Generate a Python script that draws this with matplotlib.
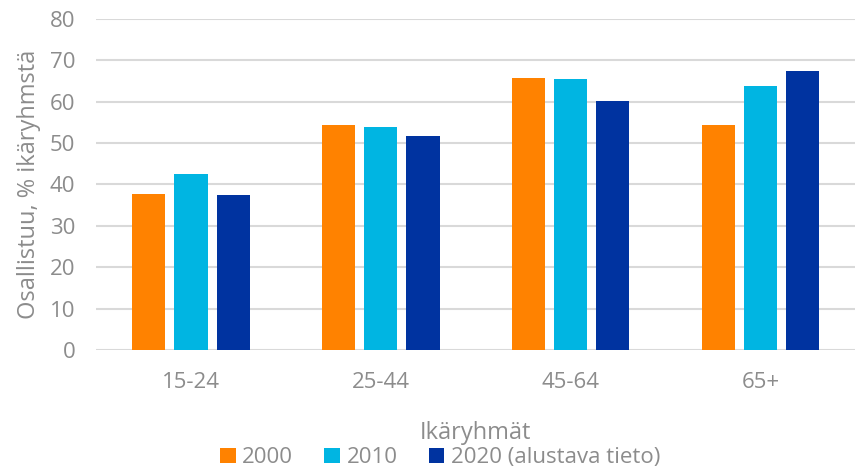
import numpy as np
import matplotlib.pyplot as plt

# arvot luettu kuvasta
categories = ['15-24', '25-44', '45-64', '65+']
years = ['2000', '2010', '2020 (alustava tieto)']
v2000 = [37.7, 54.3, 65.7, 54.3]
v2010 = [42.5, 53.9, 65.5, 63.8]
v2020 = [37.4, 51.7, 60.1, 67.5]
colors = ['#FF8200', '#00B5E2', '#0033A0']

plt.rcParams['font.family'] = ['Open Sans', 'DejaVu Sans']
grey = '#8c8c8c'

fig = plt.figure(figsize=(8.58, 4.71), dpi=100)
ax = fig.add_axes([0.112, 0.257, 0.885, 0.703])

x = np.arange(len(categories))
w = 0.175
step = 0.222
for i, (vals, lab) in enumerate(zip([v2000, v2010, v2020], years)):
    ax.bar(x + (i - 1) * step, vals, w, color=colors[i], label=lab, zorder=3)

ax.set_xlim(-0.5, len(categories) - 0.5)
ax.set_ylim(0, 80)
ax.set_yticks(range(0, 81, 10))
ax.set_xticks(x)
ax.set_xticklabels(categories)
ax.grid(axis='y', color='#d9d9d9', linewidth=1.5, zorder=0)
for s in ax.spines.values():
    s.set_visible(False)
ax.tick_params(length=0, labelsize=16, colors=grey)
ax.tick_params(axis='y', pad=15)
ax.tick_params(axis='x', pad=16)
ax.set_ylabel('Osallistuu, % ikäryhmstä', fontsize=17, color=grey, labelpad=6)
ax.set_xlabel('Ikäryhmät', fontsize=17, color=grey, labelpad=20)

fig.legend(loc='center', bbox_to_anchor=(0.513, 0.028), ncol=3, frameon=False,
           fontsize=16, labelcolor=grey, handlelength=0.7, handleheight=0.7,
           handletextpad=0.3, columnspacing=1.4, borderaxespad=0)

fig.savefig('out.png', dpi=100)
